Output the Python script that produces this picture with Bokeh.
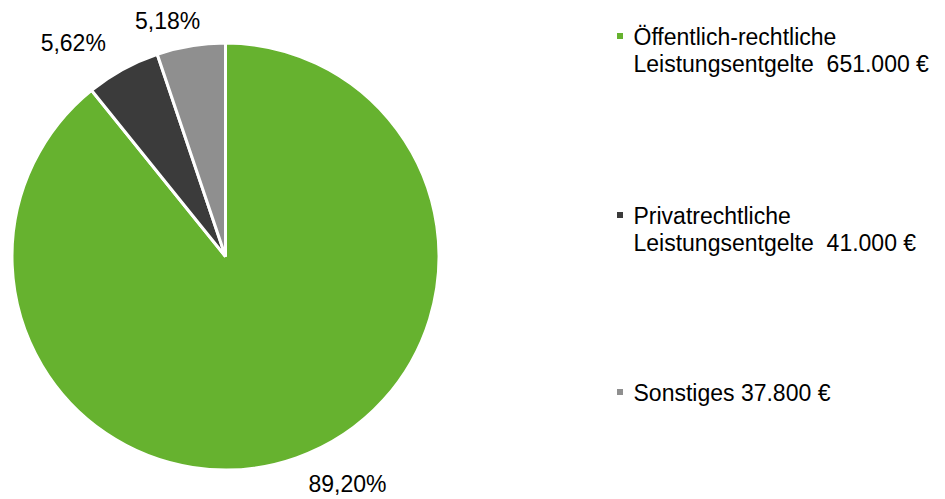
import math
from bokeh.plotting import figure
from bokeh.models import Range1d, ColumnDataSource
from bokeh.core.properties import value
from bokeh.embed import file_html
from bokeh.resources import INLINE

# ---- data ----
categories = ["Öffentlich-rechtliche\nLeistungsentgelte", "Privatrechtliche\nLeistungsentgelte", "Sonstiges"]
amounts = [651000, 41000, 37800]
amount_sep = [" \u00a0", " \u00a0", " "]
colors = ["#66b22f", "#3b3b3b", "#8f8f8f"]

# ---- layout (pixels; data units == screen pixels, y up) ----
W, H = 945, 499
CX, CY, R = 225, 243, 213.5
FONT = "Liberation Sans"
FS = "23px"

p = figure(width=W, height=H, output_backend="svg", toolbar_location=None,
           x_range=Range1d(0, W), y_range=Range1d(0, H), min_border=0)
p.axis.visible = False
p.grid.visible = False
p.outline_line_color = None
p.background_fill_color = "white"
p.border_fill_color = "white"

total = sum(amounts)
fracs = [a / total for a in amounts]
starts, ends, mids = [], [], []
ang = math.pi / 2
for f in fracs:
    s = ang
    e = ang - f * 2 * math.pi
    starts.append(s)
    ends.append(e)
    mids.append((s + e) / 2)
    ang = e

src = ColumnDataSource(dict(start=starts, end=ends, color=colors))
p.wedge(x=CX, y=CY, radius=R, start_angle="start", end_angle="end", direction="clock",
        fill_color="color", line_color="white", line_width=3, source=src)

# percentage labels (anchored outside each slice's mid-angle)
pct = [("%.2f" % (f * 100)).replace(".", ",") + "%" for f in fracs]
LR = 230
dx = [6.5, -9, 12]      # fine placement, pixels
dy = [2, 25, 22]        # fine placement, pixels (up)
lx, ly, al = [], [], []
for m, ox, oy in zip(mids, dx, dy):
    c, s = math.cos(m), math.sin(m)
    lx.append(CX + LR * c + ox)
    ly.append(CY + LR * s + oy)
    al.append("left" if c >= 0 else "right")
lsrc = ColumnDataSource(dict(x=lx, y=ly, t=pct, a=al))
p.text(x="x", y="y", text="t", text_align="a", text_baseline="top",
       text_font=value(FONT), text_font_size=FS, text_color="black", source=lsrc)

# legend
def fmt_eur(v):
    return "{:,}".format(v).replace(",", ".") + " €"

LEG_X = 633
LEG_MARK_X = 619.5
item_centers = [H - 35.5, H - 214.5, H - 391.5]  # first-line centre of each item
LINE = 27
TOP_SHIFT = 12.5
tx, ty, tt = [], [], []
mx, my, mc = [], [], []
for cat, amt, sep, col, yc in zip(categories, amounts, amount_sep, colors, item_centers):
    lines = (cat + sep + fmt_eur(amt)).split("\n")
    for i, ln in enumerate(lines):
        tx.append(LEG_X)
        ty.append(yc + TOP_SHIFT - i * LINE)
        tt.append(ln)
    mx.append(LEG_MARK_X)
    my.append(yc)
    mc.append(col)

p.text(x=tx, y=ty, text=tt, text_align="left", text_baseline="top",
       text_font=value(FONT), text_font_size=FS, text_color="black")
p.scatter(x=mx, y=my, marker="square", size=6, fill_color=mc, line_color=None)

open("out.html", "w").write(file_html(p, INLINE))
